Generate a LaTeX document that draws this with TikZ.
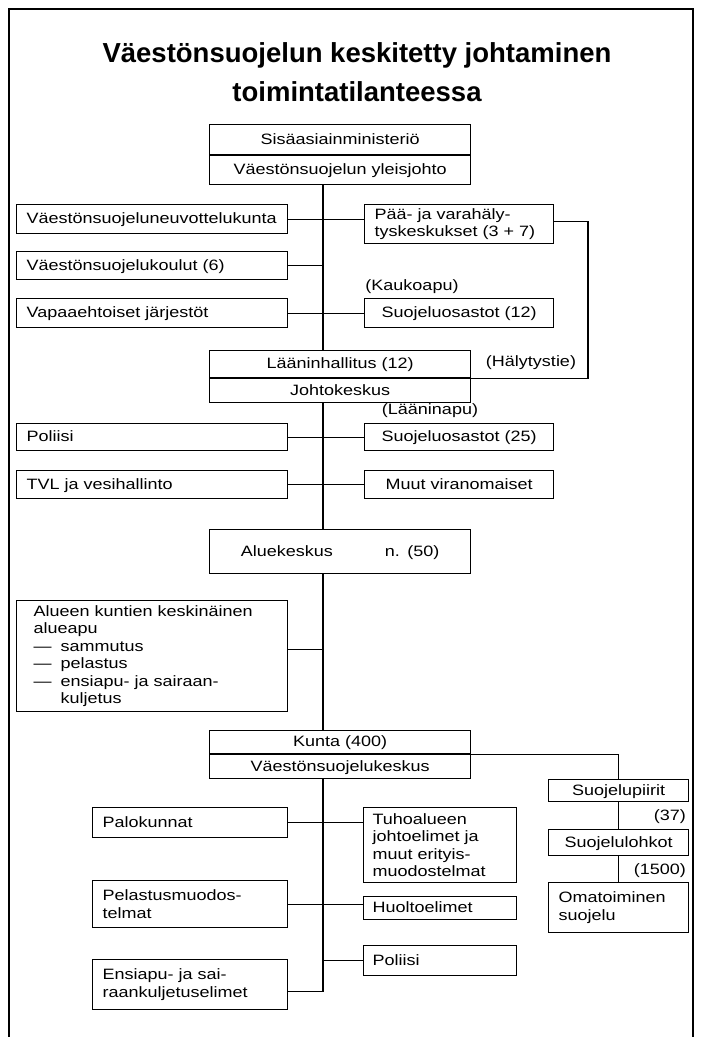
\documentclass[tikz,border=0pt]{standalone}
\usepackage{fontspec}
\setmainfont{Liberation Sans}
\newfontfamily\boxfont[FakeStretch=1.2]{Liberation Sans}
\usetikzlibrary{positioning}
\hyphenpenalty=10000
\exhyphenpenalty=10000

\begin{document}
\begin{tikzpicture}[x=1pt, y=-1pt,
    cell/.style={draw, line width=1.2pt, anchor=north west, inner xsep=10pt, inner ysep=0pt,
      align=left, font={\boxfont\fontsize{15}{17.5}\selectfont}},
    oneline/.style={text height=11pt, text depth=2pt},
    leftbox/.style={cell, text width=251pt},
    rightbox/.style={cell, oneline, text width=169pt, align=center},
    centrebox/.style={cell, oneline, text width=241pt, align=center},
    lowleftbox/.style={cell, text width=175pt},
    lowmidbox/.style={cell, inner xsep=9pt, text width=135pt},
    colbox/.style={cell, text width=120pt},
    note/.style={inner sep=0pt, font={\boxfont\fontsize{15}{17.5}\selectfont}},
    heading/.style={anchor=base, inner sep=0pt, font={\bfseries\fontsize{27.5}{38}\selectfont}},
    link/.style={line width=1.1pt}]
  \useasboundingbox (0,0) rectangle (702,1037);
  \draw[line width=1.6pt] (9,1037) -- (9,9) -- (693,9) -- (693,1037);

  \node[heading] (title1) at (357,62) {Väestönsuojelun keskitetty johtaminen};
  \node[heading] (title2) at (357,101) {toimintatilanteessa};

  \node[centrebox, minimum height=30pt] (sm) at (209,124) {Sisäasiainministeriö};
  \node[centrebox, minimum height=29pt, below=0pt of sm] (yj) {Väestönsuojelun yleisjohto};

  \node[leftbox, oneline, minimum height=29pt] (vsn) at (16,204) {Väestönsuojeluneuvottelukunta};
  \node[cell, text width=169pt, minimum height=39pt] (pvh) at (364,204) {Pää- ja varahäly-\\tyskeskukset (3 + 7)};
  \node[leftbox, oneline, minimum height=28pt] (vsk) at (16,251) {Väestönsuojelukoulut (6)};
  \node[note] (kauko) at (412,287) {(Kaukoapu)};
  \node[leftbox, oneline, minimum height=29pt] (vj) at (16,298) {Vapaaehtoiset järjestöt};
  \node[rightbox, minimum height=29pt] (so12) at (364,298) {Suojeluosastot (12)};

  \node[centrebox, minimum height=27pt] (lh) at (209,350) {Lääninhallitus (12)};
  \node[centrebox, minimum height=24pt, below=0pt of lh] (jk) {Johtokeskus};
  \node[note] (halyt) at (531,363) {(Hälytystie)};
  \node[note] (laani) at (430,411) {(Lääninapu)};

  \node[leftbox, oneline, minimum height=27pt] (pol) at (16,423) {Poliisi};
  \node[rightbox, minimum height=27pt] (so25) at (364,423) {Suojeluosastot (25)};
  \node[leftbox, oneline, minimum height=28pt] (tvl) at (16,470) {TVL ja vesihallinto};
  \node[rightbox, minimum height=28pt] (muut) at (364,470) {Muut viranomaiset};

  \node[centrebox, minimum height=44pt] (ak) at (209,529) {Aluekeskus\hspace{52pt}n. (50)};
  \node[leftbox, inner xsep=17pt, text width=237pt, minimum height=111pt] (aka) at (16,600)
    {Alueen kuntien keskinäinen\\alueapu\\\makebox[27pt][l]{—}sammutus\\\makebox[27pt][l]{—}pelastus\\
     \makebox[27pt][l]{—}ensiapu- ja sairaan-\\\hspace*{27pt}kuljetus};

  \node[centrebox, minimum height=23pt] (kunta) at (209,730) {Kunta (400)};
  \node[centrebox, minimum height=24pt, below=0pt of kunta] (kvs) {Väestönsuojelukeskus};

  \node[colbox, oneline, align=center, minimum height=22pt] (sp) at (548,779) {Suojelupiirit};
  \node[note, anchor=east] (n37) at (686,817) {(37)};
  \node[colbox, oneline, align=center, minimum height=26pt] (sl) at (548,829) {Suojelulohkot};
  \node[note, anchor=east] (n1500) at (686,871) {(1500)};
  \node[colbox, minimum height=50pt] (oma) at (548,882) {Omatoiminen\\suojelu};

  \node[lowleftbox, oneline, minimum height=30pt] (pal) at (92,807) {Palokunnat};
  \node[lowmidbox, minimum height=75pt] (tuho) at (363,807) {Tuhoalueen\\johtoelimet ja\\muut erityis-\\muodostelmat};
  \node[lowleftbox, minimum height=47pt] (pel) at (92,880) {Pelastusmuodos-\\telmat};
  \node[lowmidbox, oneline, minimum height=23pt] (huol) at (363,896) {Huoltoelimet};
  \node[lowmidbox, oneline, minimum height=30pt] (pol2) at (363,945) {Poliisi};
  \node[lowleftbox, minimum height=50pt] (ens) at (92,959) {Ensiapu- ja sai-\\raankuljetuselimet};

  \coordinate (trunk) at (323,0);
  \coordinate (halt) at (588,0);
  \coordinate (akalink) at ([yshift=7pt]aka.east);
  \coordinate (enslink) at ([yshift=-7pt]ens.east);
  \coordinate (pvhlink) at ([yshift=3pt]pvh.east);

  \draw[link] (trunk |- yj.south) -- (trunk |- lh.north);
  \draw[link] (trunk |- jk.south) -- (trunk |- ak.north);
  \draw[link] (trunk |- ak.south) -- (trunk |- kunta.north);
  \draw[link] (trunk |- kvs.south) |- (enslink);
  \draw[link] (vsn.east) -- (vsn.east -| pvh.west);
  \draw[link] (vsk.east) -- (trunk |- vsk.east);
  \draw[link] (vj.east) -- (vj.east -| so12.west);
  \draw[link] (pvhlink) -| (halt |- lh.south east) -- (lh.south east);
  \draw[link] (pol.east) -- (pol.east -| so25.west);
  \draw[link] (tvl.east) -- (tvl.east -| muut.west);
  \draw[link] (akalink) -- (trunk |- akalink);
  \draw[link] (kvs.north east) -| (sp.north);
  \draw[link] (sp.south) -- (sl.north);
  \draw[link] (sl.south) -- (oma.north);
  \draw[link] (pal.east) -- (pal.east -| tuho.west);
  \draw[link] (pel.east) -- (pel.east -| huol.west);
  \draw[link] (trunk |- pol2.west) -- (pol2.west);
\end{tikzpicture}
\end{document}
